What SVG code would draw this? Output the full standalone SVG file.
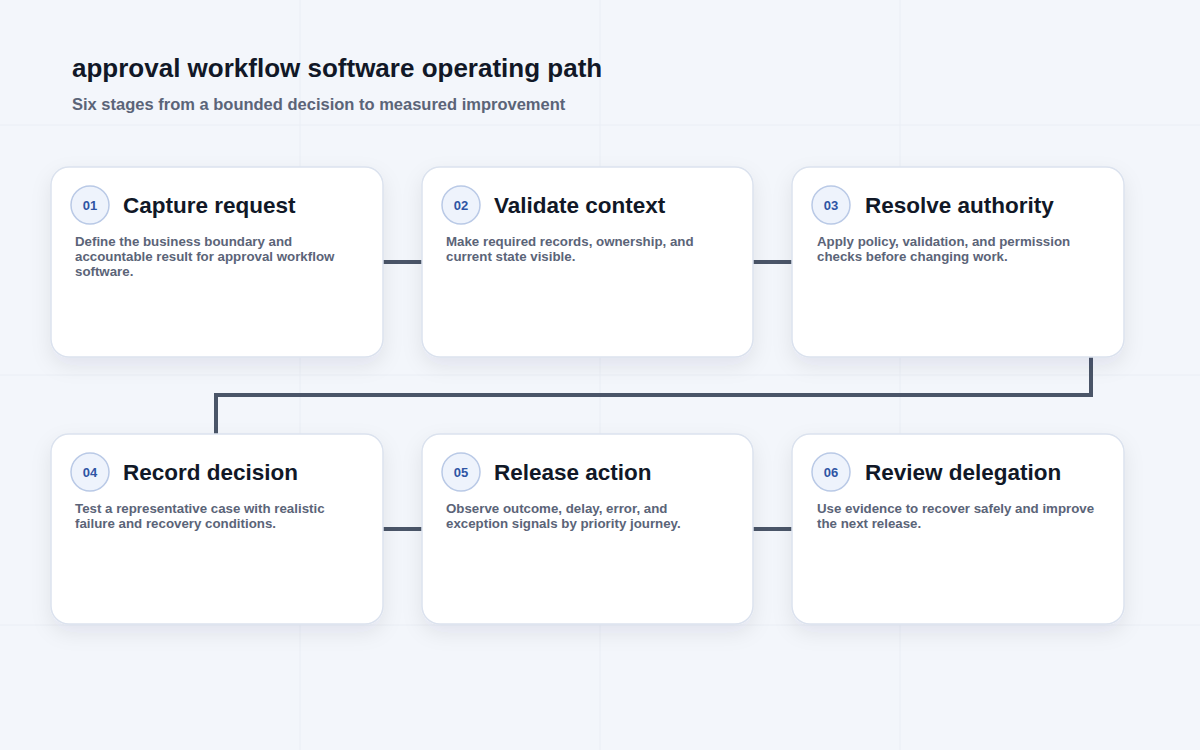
<svg xmlns="http://www.w3.org/2000/svg" width="1200" height="750" viewBox="0 0 1200 750">
<defs>
<filter id="sh" x="-20%" y="-20%" width="140%" height="150%"><feDropShadow dx="0" dy="8" stdDeviation="10" flood-color="#1e293b" flood-opacity="0.08"/></filter>
<style>
.card{fill:#fff;stroke:#dbe2ee;stroke-width:1.5;filter:url(#sh)}
.num{fill:#eef3fc;stroke:#b9c9e6;stroke-width:1.5}
.numt{font:bold 13px "Liberation Sans",Arial,sans-serif;fill:#2f55a4;text-anchor:middle}
.tt{font:bold 22.5px "Liberation Sans",Arial,sans-serif;fill:#111827}
.ds{font:bold 13.3px "Liberation Sans",Arial,sans-serif;fill:#5b6478}
.con{fill:none;stroke:#4a5568;stroke-width:4}
.grid{stroke:#eaeef5;stroke-width:1}
</style>
</defs>
<rect width="1200" height="750" fill="#f3f6fb"/>
<g class="grid">
<line x1="0" y1="125" x2="1200" y2="125"/><line x1="0" y1="375" x2="1200" y2="375"/><line x1="0" y1="625" x2="1200" y2="625"/>
<line x1="300" y1="0" x2="300" y2="750"/><line x1="600" y1="0" x2="600" y2="750"/><line x1="900" y1="0" x2="900" y2="750"/>
</g>
<text x="72" y="77" font-family="Liberation Sans,Arial,sans-serif" font-weight="bold" font-size="26" fill="#111827">approval workflow software operating path</text>
<text x="72" y="110" font-family="Liberation Sans,Arial,sans-serif" font-weight="bold" font-size="16.5" fill="#5b6478">Six stages from a bounded decision to measured improvement</text>
<g id="connectors">
<line class="con" x1="383" y1="262" x2="422" y2="262"/>
<line class="con" x1="753" y1="262" x2="792" y2="262"/>
<path class="con" d="M1091 357 V395 H216 V434"/>
<line class="con" x1="383" y1="529" x2="422" y2="529"/>
<line class="con" x1="753" y1="529" x2="792" y2="529"/>
</g>
<g id="n1"><rect class="card" x="51" y="167" width="332" height="190" rx="18"/><circle class="num" cx="90" cy="205" r="19"/><text class="numt" x="90" y="210">01</text><text class="tt" x="123" y="213">Capture request</text><text class="ds" x="75" y="246">Define the business boundary and</text><text class="ds" x="75" y="261">accountable result for approval workflow</text><text class="ds" x="75" y="276">software.</text></g>
<g id="n2"><rect class="card" x="422" y="167" width="331" height="190" rx="18"/><circle class="num" cx="461" cy="205" r="19"/><text class="numt" x="461" y="210">02</text><text class="tt" x="494" y="213">Validate context</text><text class="ds" x="446" y="246">Make required records, ownership, and</text><text class="ds" x="446" y="261">current state visible.</text></g>
<g id="n3"><rect class="card" x="792" y="167" width="332" height="190" rx="18"/><circle class="num" cx="831" cy="205" r="19"/><text class="numt" x="831" y="210">03</text><text class="tt" x="865" y="213">Resolve authority</text><text class="ds" x="817" y="246">Apply policy, validation, and permission</text><text class="ds" x="817" y="261">checks before changing work.</text></g>
<g id="n4"><rect class="card" x="51" y="434" width="332" height="190" rx="18"/><circle class="num" cx="90" cy="472" r="19"/><text class="numt" x="90" y="477">04</text><text class="tt" x="123" y="480">Record decision</text><text class="ds" x="75" y="513">Test a representative case with realistic</text><text class="ds" x="75" y="528">failure and recovery conditions.</text></g>
<g id="n5"><rect class="card" x="422" y="434" width="331" height="190" rx="18"/><circle class="num" cx="461" cy="472" r="19"/><text class="numt" x="461" y="477">05</text><text class="tt" x="494" y="480">Release action</text><text class="ds" x="446" y="513">Observe outcome, delay, error, and</text><text class="ds" x="446" y="528">exception signals by priority journey.</text></g>
<g id="n6"><rect class="card" x="792" y="434" width="332" height="190" rx="18"/><circle class="num" cx="831" cy="472" r="19"/><text class="numt" x="831" y="477">06</text><text class="tt" x="865" y="480">Review delegation</text><text class="ds" x="817" y="513">Use evidence to recover safely and improve</text><text class="ds" x="817" y="528">the next release.</text></g>
</svg>
